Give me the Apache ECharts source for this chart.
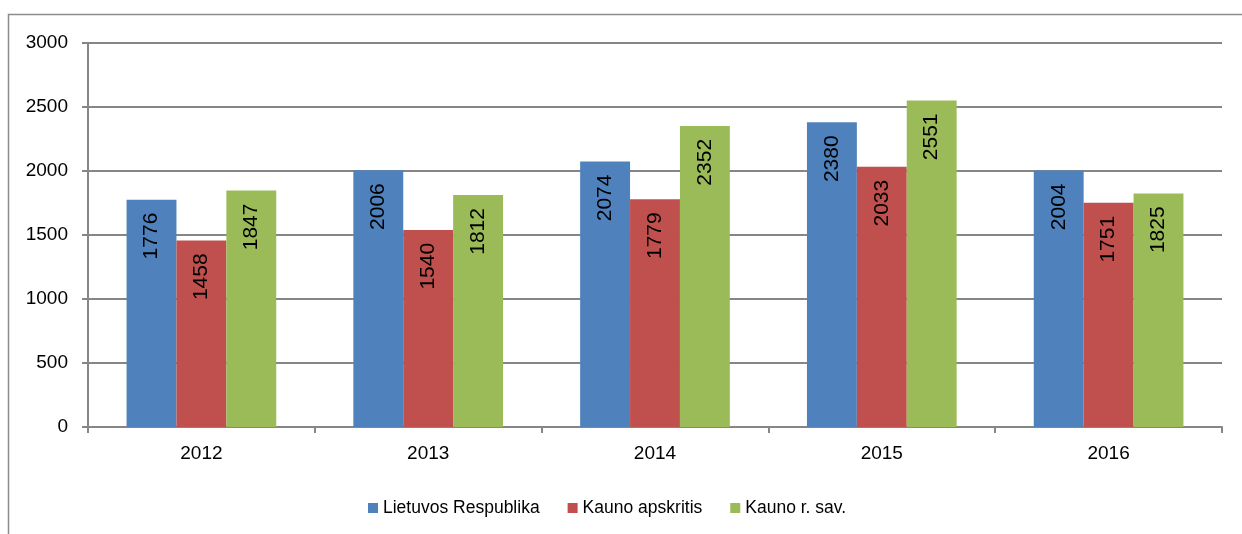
<!DOCTYPE html>
<html><head><meta charset="utf-8">
<script src="https://cdn.jsdelivr.net/npm/echarts@6/dist/echarts.min.js"></script>
<style>html,body{margin:0;padding:0;background:#fff}#c{width:1242px;height:534px}</style>
</head><body><div id="c"></div>
<script>
const categories = ['2012','2013','2014','2015','2016'];
const seriesNames = ['Lietuvos Respublika','Kauno apskritis','Kauno r. sav.'];
const lietuvos = [1776, 2006, 2074, 2380, 2004];
const kaunoApskritis = [1458, 1540, 1779, 2033, 1751];
const kaunoRSav = [1847, 1812, 2352, 2551, 1825];
const colors = ['#4F81BD','#C0504D','#9BBB59'];
const FONT = 'Liberation Sans';
const chart = echarts.init(document.getElementById('c'));
const label = {show:true, position:'insideTop', rotate:90, align:'right', verticalAlign:'middle', distance:13,
  color:'#000', fontFamily:FONT, fontSize:21};
function mk(name, data, i){
  return {name, type:'bar', data, itemStyle:{color:colors[i]}, barGap:'0%', barCategoryGap:'34%', label};
}
chart.setOption({
  animation:false,
  graphic:[{type:'rect', shape:{x:8.5,y:14.5,width:1400,height:700}, style:{fill:'none', stroke:'#8c8c8c', lineWidth:1.5}}],
  legend:{top:499, left:368, padding:0, itemWidth:10, itemHeight:10, itemGap:28, icon:'rect',
    textStyle:{fontFamily:FONT, fontSize:17.5, color:'#000'}, data:seriesNames},
  grid:{left:88, right:20, top:43, bottom:107},
  xAxis:{type:'category', data:categories,
    axisLine:{lineStyle:{color:'#868686', width:2}},
    axisTick:{show:true, length:6, lineStyle:{color:'#868686', width:2}},
    axisLabel:{color:'#000', fontFamily:FONT, fontSize:19, margin:17}},
  yAxis:{type:'value', min:0, max:3000, interval:500,
    axisLine:{show:true, lineStyle:{color:'#868686', width:2}},
    axisTick:{show:true, length:6, lineStyle:{color:'#868686', width:2}},
    splitLine:{lineStyle:{color:'#868686', width:2}},
    axisLabel:{color:'#000', fontFamily:FONT, fontSize:19, margin:20, formatter:v=>String(v)}},
  series:[mk(seriesNames[0], lietuvos, 0), mk(seriesNames[1], kaunoApskritis, 1), mk(seriesNames[2], kaunoRSav, 2)]
});
</script></body></html>
